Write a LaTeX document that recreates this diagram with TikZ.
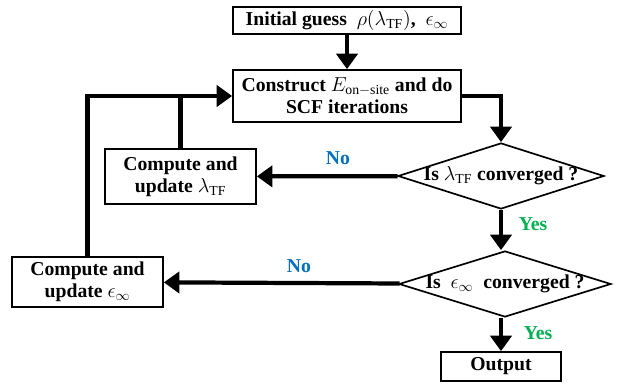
\documentclass[tikz,border=0pt]{standalone}
\usepackage{fontspec}
\setmainfont{Liberation Serif}
\usetikzlibrary{arrows.meta,shapes.geometric,positioning,calc}

\definecolor{noblue}{RGB}{0,112,192}
\definecolor{yesgreen}{RGB}{0,176,80}

\begin{document}
\begin{tikzpicture}
[x=0.025cm,y=-0.025cm,
every node/.style={font=\fontsize{14}{15.5}\selectfont\bfseries,align=center},
box/.style={draw,line width=1.2pt,shape=rectangle,inner sep=1pt},
test/.style={draw,line width=1.2pt,shape=diamond,aspect=3.12,inner xsep=-10pt,
  inner ysep=0pt,minimum width=5.15cm,minimum height=1.65cm},
lab/.style={inner sep=1pt},
myedge/.style={-{Triangle[width=15pt,length=11pt]},line width=3pt},
subedge/.style={line width=3pt}]
\useasboundingbox (0,0) rectangle (617,385);
%%%%%%%%%%
%% boxes
\node (init) [box,minimum width=5.7cm,minimum height=0.675cm] at (347,20.5)
  {Initial guess\ \ $\rho(\lambda_{\mathrm{TF}})$,\ \ $\epsilon_\infty$};
\node (scf) [box,minimum width=5.7cm,minimum height=1.3cm] at (347,96)
  {Construct $E_{\mathrm{on-site}}$ and do\\SCF iterations};
\node (lam) [box,minimum width=3.775cm,minimum height=1.375cm] at (180.5,176.5)
  {Compute and\\update $\lambda_{\mathrm{TF}}$};
\node (eps) [box,minimum width=3.775cm,minimum height=1.25cm] at (87.5,282)
  {Compute and\\update $\epsilon_\infty$};
\node (out) [box,minimum width=3cm,minimum height=0.725cm] at (501,366.5)
  {Output};
%% tests
\node (t1) [test] at (501,176) {Is $\lambda_{\mathrm{TF}}$ converged ?};
\node (t2) [test,minimum width=5.3cm] at (505,284) {Is\ \ $\epsilon_\infty$\ \ converged ?};
%% edges
\draw[myedge] (init) -- (scf);
\draw[myedge] (scf.east) -| (t1.north);
\draw[myedge] (t1) -- (lam);
\draw[myedge] (t1.south) -- (t1.south |- t2.north);
\draw[myedge] (t2) -- (eps);
\draw[myedge] (t1.south |- t2.south) -- (out);
\draw[subedge] (lam.north) -- (lam.north |- scf.west);
\draw[myedge] (eps.north) |- (scf.west);
%% labels
\node (no1) [lab,text=noblue] at (338,158) {No};
\node (no2) [lab,text=noblue] at (299,266) {No};
\node (yes1) [lab,text=yesgreen] at (533,224) {Yes};
\node (yes2) [lab,text=yesgreen] at (538,333) {Yes};
\end{tikzpicture}
\end{document}
